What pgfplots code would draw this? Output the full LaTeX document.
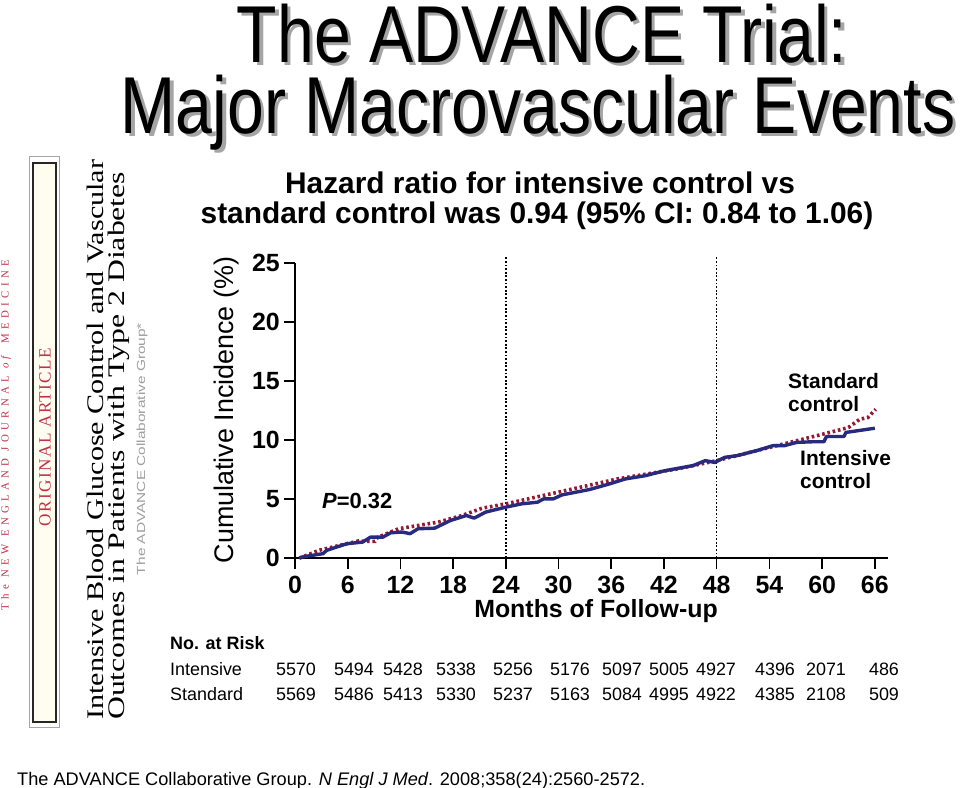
\documentclass[border=0pt]{standalone}
\usepackage{fontspec}
\setmainfont{Liberation Sans}
\newfontfamily\serif{Liberation Serif}
\newfontfamily\narrow{Liberation Sans}[FakeStretch=0.82]
\usepackage{graphicx}
\usepackage{pgfplots}
\pgfplotsset{compat=1.18}
\newcommand\fs[1]{\fontsize{#1}{#1}\selectfont}
\definecolor{intblue}{RGB}{40,42,128}
\definecolor{stdred}{RGB}{150,25,50}
\definecolor{nejmred}{RGB}{192,48,72}
\definecolor{shadow}{RGB}{165,165,165}
\definecolor{cream}{RGB}{255,253,240}
\newcommand\shadowed[1]{\rlap{\hspace{3.5bp}\raisebox{-3.5bp}{\textcolor{shadow}{#1}}}#1}
\begin{document}
\begin{tikzpicture}
\path[use as bounding box, fill=white] (0,0) rectangle (960bp,-788bp);
% ---- Title with shadow
\node[anchor=base, inner sep=0] at (542bp,-62bp) {\narrow\fs{81}\shadowed{The ADVANCE Trial:}};
\node[anchor=base, inner sep=0] at (538bp,-133bp) {\narrow\fs{81}\shadowed{Major Macrovascular Events}};
% ---- Subtitle
\node[anchor=base, inner sep=0] at (540bp,-193bp) {\bfseries\fs{30}Hazard ratio for intensive control vs};
\node[anchor=base, inner sep=0] at (537bp,-223bp) {\bfseries\fs{30}standard control was 0.94 (95\% CI: 0.84 to 1.06)};
% ---- Left article panel
\node[rotate=90, inner sep=0, text=nejmred] at (6bp,-435bp) {\resizebox{350bp}{!}{\serif\addfontfeatures{LetterSpace=40}\fs{10}The NEW ENGLAND JOURNAL \textit{of} MEDICINE}};
\draw[gray!70, line width=0.8bp] (29bp,-156bp) rectangle (59bp,-727bp);
\draw[black!85, line width=1.6bp, fill=cream] (33bp,-163bp) rectangle (56bp,-722bp);
\node[rotate=90, inner sep=0, text=nejmred] at (45bp,-437bp) {\resizebox{178bp}{!}{\serif\addfontfeatures{LetterSpace=8}\fs{12}ORIGINAL ARTICLE}};
\node[rotate=90, anchor=base west, inner sep=0] at (103bp,-720bp) {\resizebox{560bp}{16.5bp}{\serif\fs{27}Intensive Blood Glucose Control and Vascular}};
\node[rotate=90, anchor=base west, inner sep=0] at (124bp,-720bp) {\resizebox{548bp}{16.5bp}{\serif\fs{27}Outcomes in Patients with Type 2 Diabetes}};
\node[rotate=90, anchor=base, inner sep=0, text=gray!75] at (145bp,-449bp) {\resizebox{252bp}{8.5bp}{\fs{12}The ADVANCE Collaborative Group*}};
% ---- Axis
\begin{axis}[
  at={(295bp,-558bp)}, anchor=south west,
  scale only axis, width=593bp, height=295bp,
  xmin=0, xmax=67.5, ymin=0, ymax=25,
  axis x line=bottom, axis y line=left,
  axis line style={-, line width=1.8bp, black},
  clip=false,
  xtick={0,6,...,66}, ytick={0,5,...,25},
  tick align=outside, major tick length=11bp,
  tick style={line width=1.6bp, black},
  /pgf/number format/assume math mode=true,
  xticklabel style={font=\bfseries\fs{25}, inner sep=0pt, anchor=north, yshift=-7bp},
  yticklabel style={font=\bfseries\fs{25}, inner sep=0pt, anchor=east, xshift=-4bp},
]
\addplot[black, line width=1.6bp, dash pattern=on 1.8bp off 1.8bp] coordinates {(24,0) (24,25.5)};
\addplot[black, line width=1.6bp, dash pattern=on 1.8bp off 1.8bp] coordinates {(48,0) (48,25.5)};
\addplot[stdred, line width=3.6bp, dash pattern=on 2.6bp off 2.8bp] coordinates {
(0.5,0.0) (0.9,0.1) (2.7,0.65) (7.2,1.44) (9.1,1.41) (9.4,1.75) (11.8,2.48) (16.3,3.04) (19.0,3.6) (21.3,4.22) (24.0,4.59) (29.9,5.57) (36.7,6.7) (43.5,7.55) (48.0,8.25) (52.5,9.09) (57.1,9.94) (61.6,10.78) (63.0,11.06) (64.3,11.77) (65.2,11.9) (66.1,12.6)};
\addplot[intblue, line width=3.4bp, line join=round] coordinates {
(0.5,0.0) (0.9,0.1) (3.2,0.37) (3.6,0.65) (5.9,1.21) (7.7,1.35) (8.6,1.77) (10.0,1.77) (10.9,2.14) (12.2,2.2) (13.1,2.06) (14.0,2.48) (15.9,2.53) (17.7,3.18) (19.5,3.6) (20.4,3.38) (21.7,3.89) (24.0,4.31) (25.8,4.59) (27.6,4.73) (28.3,5.01) (29.4,5.01) (30.4,5.35) (33.5,5.8) (35.8,6.28) (37.6,6.7) (39.9,6.98) (42.1,7.4) (45.3,7.83) (46.7,8.25) (47.8,8.1) (48.9,8.53) (50.3,8.67) (52.5,9.09) (54.4,9.52) (55.7,9.52) (57.1,9.8) (58.9,9.85) (60.2,9.85) (60.5,10.3) (62.5,10.3) (62.7,10.64) (66.0,11.0)};
\end{axis}
% ---- Axis titles and annotations
\node[rotate=90, anchor=base, inner sep=0] at (233bp,-410bp) {\fs{27}Cumulative Incidence (\%)};
\node[anchor=base, inner sep=0] at (596bp,-617bp) {\bfseries\fs{25}Months of Follow-up};
\node[anchor=base west, inner sep=0] at (322bp,-508bp) {\bfseries\fs{22}\textit{P}=0.32};
\node[anchor=base west, inner sep=0] at (788bp,-388bp) {\bfseries\fs{21}Standard};
\node[anchor=base west, inner sep=0] at (788bp,-411bp) {\bfseries\fs{21}control};
\node[anchor=base west, inner sep=0] at (800bp,-465bp) {\bfseries\fs{21}Intensive};
\node[anchor=base west, inner sep=0] at (800bp,-488bp) {\bfseries\fs{21}control};
% ---- Number at risk
\node[anchor=base west, inner sep=0] at (170bp,-649bp) {\bfseries\fs{18}No. at Risk};
\node[anchor=base west, inner sep=0] at (170bp,-675bp) {\fs{18}Intensive};
\node[anchor=base west, inner sep=0] at (170bp,-700bp) {\fs{18}Standard};
\foreach \x/\a/\b in {296/5570/5569, 354/5494/5486, 403/5428/5413, 456/5338/5330, 513/5256/5237, 570/5176/5163, 622/5097/5084, 669/5005/4995, 716/4927/4922, 775/4396/4385, 826/2071/2108, 884/486/509}{
  \node[anchor=base, inner sep=0] at (\x bp,-675bp) {\fs{18}\a};
  \node[anchor=base, inner sep=0] at (\x bp,-700bp) {\fs{18}\b};
}
% ---- Citation
\node[anchor=base west, inner sep=0] at (17bp,-785bp) {\resizebox{628bp}{!}{\fs{18}The ADVANCE Collaborative Group. \textit{N Engl J Med}. 2008;358(24):2560-2572.}};
\end{tikzpicture}
\end{document}
